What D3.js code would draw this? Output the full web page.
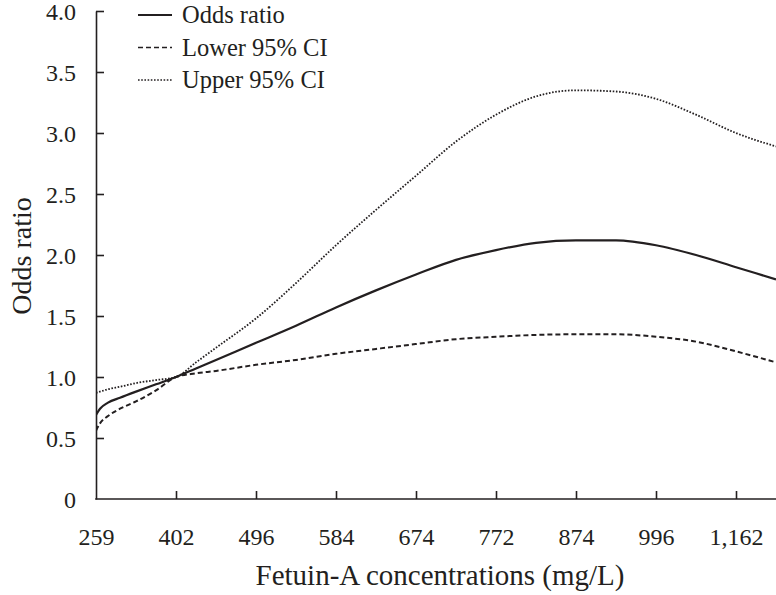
<!doctype html>
<html lang="en">
<head>
<meta charset="utf-8">
<title>Odds ratio by Fetuin-A</title>
<script src="https://cdn.jsdelivr.net/npm/d3@7"></script>
<style>
  body { margin: 0; background: #fff; }
  text { font-family: "Liberation Serif", "DejaVu Serif", serif; fill: #231f20; }
</style>
</head>
<body>
<script>
  // x tick labels (mg/L), placed evenly, one per unit of position
  var xLabels = ["259", "402", "496", "584", "674", "772", "874", "996", "1,162"];
  var yTicks = [0, 0.5, 1, 1.5, 2, 2.5, 3, 3.5, 4];

  // sample positions along the x axis (in tick units) and the curve values
  var pos   = [0, 0.05, 0.15, 0.3, 0.5, 0.75, 1, 1.25, 1.5, 2, 2.5, 3, 3.5, 4, 4.5, 5, 5.5, 6, 6.5, 7, 7.5, 8, 8.5];
  var odds  = [0.69, 0.74, 0.79, 0.83, 0.88, 0.94, 1.0, 1.07, 1.14, 1.28, 1.42, 1.57, 1.71, 1.84, 1.96, 2.04, 2.10, 2.12, 2.12, 2.08, 2.00, 1.90, 1.80];
  var lower = [0.56, 0.62, 0.68, 0.74, 0.80, 0.89, 1.0, 1.03, 1.05, 1.10, 1.14, 1.19, 1.23, 1.27, 1.31, 1.33, 1.345, 1.35, 1.35, 1.33, 1.29, 1.21, 1.12];
  var upper = [0.87, 0.88, 0.90, 0.92, 0.95, 0.975, 1.0, 1.12, 1.24, 1.48, 1.77, 2.08, 2.37, 2.65, 2.93, 3.15, 3.30, 3.35, 3.34, 3.28, 3.15, 3.00, 2.89];

  var seriesNames = ["Odds ratio", "Lower 95% CI", "Upper 95% CI"];
  var seriesData = [odds, lower, upper];
  var dashes = [null, "5,3", "1.6,1.6"];
  var widths = [2.2, 2, 1.8];

  var width = 776, height = 595;
  var ink = "#231f20";

  var svg = d3.select("body").append("svg")
      .attr("width", width)
      .attr("height", height);

  var x = d3.scaleLinear().domain([0, 8.5]).range([96, 776]);
  var y = d3.scaleLinear().domain([0, 4]).range([499, 11]);

  // clip so the lines stop at the right edge
  svg.append("clipPath").attr("id", "plot")
     .append("rect").attr("x", 96).attr("y", 0).attr("width", 680).attr("height", 499);

  var line = d3.line()
      .x(function(d) { return x(d[0]); })
      .y(function(d) { return y(d[1]); })
      .curve(d3.curveMonotoneX);

  svg.selectAll("path.curve")
     .data(seriesData)
     .enter()
     .append("path")
     .attr("class", "curve")
     .attr("clip-path", "url(#plot)")
     .attr("d", function(vals) {
        return line(pos.map(function(p, i) { return [p, vals[i]]; }));
     })
     .attr("fill", "none")
     .attr("stroke", ink)
     .attr("stroke-width", function(d, i) { return widths[i]; })
     .attr("stroke-dasharray", function(d, i) { return dashes[i]; });

  // y axis, ticks pointing inward
  var yAxis = svg.append("g")
      .attr("transform", "translate(96,0)")
      .call(d3.axisLeft(y)
        .tickValues(yTicks)
        .tickSizeInner(-8)
        .tickSizeOuter(0)
        .tickPadding(20)
        .tickFormat(function(d) { return d === 0 ? "0" : d3.format(".1f")(d); }));

  yAxis.selectAll(".tick line").filter(function(d) { return d === 0; }).remove();

  // x axis, labels at every position, ticks from the second one
  var xAxis = svg.append("g")
      .attr("transform", "translate(0,499)")
      .call(d3.axisBottom(x)
        .tickValues(d3.range(xLabels.length))
        .tickSizeInner(-8)
        .tickSizeOuter(0)
        .tickPadding(29)
        .tickFormat(function(d) { return xLabels[d]; }));

  xAxis.selectAll(".tick line").filter(function(d) { return d === 0; }).remove();

  [yAxis, xAxis].forEach(function(g) {
    g.select(".domain").attr("stroke", ink).attr("stroke-width", 1.6);
    g.selectAll(".tick line").attr("stroke", ink).attr("stroke-width", 1.6);
    g.selectAll(".tick text")
     .attr("fill", ink)
     .attr("font-family", "Liberation Serif, serif")
     .attr("font-size", "24px");
  });
  yAxis.selectAll(".tick text").attr("dy", "0.36em");
  // extend the x axis line to the right edge and join the corner
  xAxis.select(".domain").attr("d", "M95.2,0H776");

  // axis titles
  svg.append("text")
     .attr("x", 440)
     .attr("y", 585)
     .attr("text-anchor", "middle")
     .attr("font-size", "29px")
     .text("Fetuin-A concentrations (mg/L)");

  svg.append("text")
     .attr("transform", "translate(31,256) rotate(-90)")
     .attr("text-anchor", "middle")
     .attr("font-size", "28px")
     .text("Odds ratio");

  // legend
  var legend = svg.selectAll("g.legend")
     .data(seriesNames)
     .enter()
     .append("g")
     .attr("class", "legend")
     .attr("transform", function(d, i) { return "translate(138," + (15 + i * 32.5) + ")"; });

  legend.append("line")
     .attr("x1", 0).attr("x2", 34)
     .attr("y1", 0).attr("y2", 0)
     .attr("stroke", ink)
     .attr("stroke-width", function(d, i) { return widths[i] - 0.4; })
     .attr("stroke-dasharray", function(d, i) { return dashes[i]; });

  legend.append("text")
     .attr("x", 44)
     .attr("y", 8)
     .attr("font-size", "24.5px")
     .text(function(d) { return d; });
</script>
</body>
</html>
